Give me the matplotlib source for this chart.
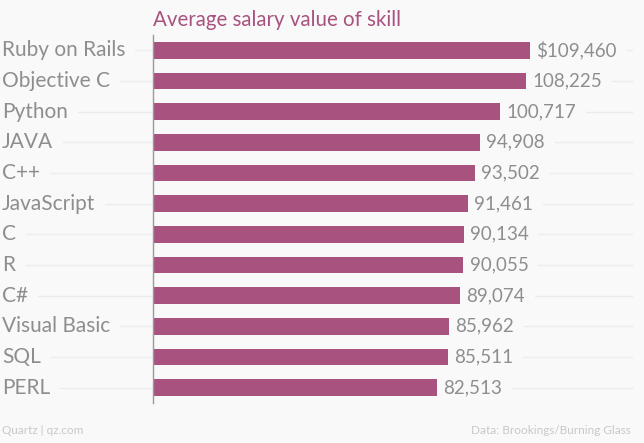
import matplotlib
matplotlib.use("Agg")
import matplotlib.pyplot as plt
import matplotlib.transforms as mtransforms
from matplotlib.lines import Line2D

skills = ["Ruby on Rails", "Objective C", "Python", "JAVA", "C++", "JavaScript",
          "C", "R", "C#", "Visual Basic", "SQL", "PERL"]
salaries = [109460, 108225, 100717, 94908, 93502, 91461, 90134, 90055, 89074,
            85962, 85511, 82513]
value_labels = ["$109,460", "108,225", "100,717", "94,908", "93,502", "91,461",
                "90,134", "90,055", "89,074", "85,962", "85,511", "82,513"]

BG = "#f9f9f9"
BAR = "#a8527f"
TXT = "#8e8e8e"
GRID = "#ececec"

plt.rcParams['font.family'] = ['Lato', 'DejaVu Sans']

fig = plt.figure(figsize=(6.44, 4.43), dpi=100, facecolor=BG)
ax = fig.add_axes([153/644, 1-403/443, (632-153)/644, (403-35)/443])
ax.set_facecolor("none")

n = len(skills)
ys = list(range(n))
ax.set_ylim(n - 0.5, -0.5)
ax.set_xlim(0, 139000)

trans = mtransforms.blended_transform_factory(fig.transFigure, ax.transData)
for y in ys:
    fig.add_artist(Line2D([0.0, 632/644], [y, y], transform=trans, color=GRID,
                          lw=1.0, zorder=0))

ax.barh(ys, salaries, height=0.55, color=BAR, zorder=6)

for y, name in zip(ys, skills):
    ax.text(2/644, y, name, transform=trans, ha="left", va="center",
            fontsize=15, color=TXT, zorder=4,
            bbox=dict(facecolor=BG, edgecolor="none", pad=7))

for y, v, lab in zip(ys, salaries, value_labels):
    ax.text(v + 1800, y, lab, ha="left", va="center", fontsize=13.5,
            color=TXT, zorder=4,
            bbox=dict(facecolor=BG, edgecolor="none", pad=7))

for s in ["top", "right", "bottom"]:
    ax.spines[s].set_visible(False)
ax.spines["left"].set_color("#999999")
ax.spines["left"].set_linewidth(1.0)
ax.spines["left"].set_zorder(7)
ax.set_xticks([])
ax.set_yticks([])

fig.text(153/644, 1-20/443, "Average salary value of skill", ha="left",
         va="center", fontsize=14.8, color=BAR)
fig.text(2/644, 1-430/443, "Quartz | qz.com", ha="left", va="center",
         fontsize=8.5, color="#c8c8c8")
fig.text(631/644, 1-430/443, "Data: Brookings/Burning Glass", ha="right",
         va="center", fontsize=8.5, color="#c8c8c8")

fig.savefig("out.png", dpi=100, facecolor=BG)
